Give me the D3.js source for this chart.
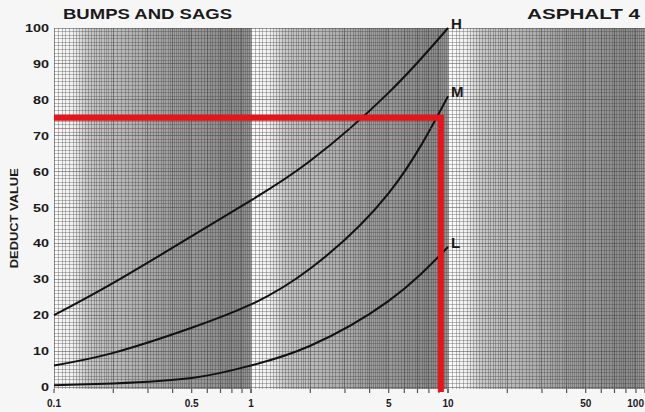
<!DOCTYPE html>
<html>
<head>
<meta charset="utf-8">
<script src="https://cdn.jsdelivr.net/npm/d3@7"></script>
<style>
  body { margin: 0; background: #f6f6f6; }
  svg { display: block; }
  .lbl { font-family: "Liberation Sans", Arial, sans-serif; font-weight: bold; fill: #1a1a1a; }
</style>
</head>
<body>
<svg width="645" height="412"></svg>
<script>
// ---- data ----
var xLevels = [0.1, 0.2, 0.5, 1, 2, 5, 10];          // density (%)
var highVals = [20, 29, 42, 52, 63, 82, 100];        // H curve
var medVals  = [6, 9.5, 16.5, 23, 33, 54, 81];       // M curve
var lowVals  = [0.5, 1, 2.5, 6, 11.5, 24, 39];       // L curve
var curveNames = ["H", "M", "L"];
var yTicks = [0, 10, 20, 30, 40, 50, 60, 70, 80, 90, 100];
var xTicks = [0.1, 0.5, 1, 5, 10, 50, 100];
var xTickLabels = ["0.1", "0.5", "1", "5", "10", "50", "100"];
var readDensity = 9.2, readDeduct = 75;             // red reading lines

var svg = d3.select("svg"),
    width = 645, height = 412;

var x = d3.scaleLog().domain([0.1, 100]).range([54, 645]);
var y = d3.scaleLinear().domain([0, 100]).range([387, 28]);

// ==================== background shading per decade ====================
var defs = svg.append("defs");
var grad = defs.append("linearGradient").attr("id", "decade");
[[0, "#fbfbfb"], [0.1, "#f0f0f0"], [0.17, "#c8c8c8"], [0.55, "#a4a4a4"], [0.9, "#8c8c8c"], [1, "#989898"]]
    .forEach(function(s) { grad.append("stop").attr("offset", s[0]).attr("stop-color", s[1]); });
defs.append("clipPath").attr("id", "plot").append("rect")
    .attr("x", x(0.1)).attr("y", y(100)).attr("width", x(100) - x(0.1)).attr("height", y(0) - y(100) + 2);

var decades = [0.1, 1, 10];
svg.append("g").selectAll("rect")
    .data(decades)
    .enter().append("rect")
    .attr("x", function(d) { return x(d); })
    .attr("y", y(100))
    .attr("width", function(d) { return x(d * 10) - x(d); })
    .attr("height", y(0) - y(100) + 2)
    .attr("fill", "url(#decade)");

// ==================== log paper grid ====================
var vLines = [];
decades.forEach(function(d) {
    // finer steps near the start of the decade like on real log paper
    var v;
    for (v = 1; v < 2 - 1e-9; v += 0.05) vLines.push({v: d * v, major: Math.abs(v - Math.round(v)) < 1e-6});
    for (v = 2; v < 5 - 1e-9; v += 0.1) vLines.push({v: d * v, major: Math.abs(v - Math.round(v)) < 1e-6});
    for (v = 5; v < 10 - 1e-9; v += 0.2) vLines.push({v: d * v, major: Math.abs(v - Math.round(v)) < 1e-6});
});
var grid = svg.append("g").attr("clip-path", "url(#plot)").attr("shape-rendering", "crispEdges");
grid.selectAll(".v")
    .data(vLines)
    .enter().append("line")
    .attr("class", "v")
    .attr("x1", function(d) { return x(d.v); }).attr("x2", function(d) { return x(d.v); })
    .attr("y1", y(100)).attr("y2", y(0) + 2)
    .attr("stroke", "#444")
    .attr("stroke-opacity", function(d) { return d.major ? 0.6 : 0.35; });
grid.selectAll(".h")
    .data(d3.range(0, 101))
    .enter().append("line")
    .attr("class", "h")
    .attr("x1", x(0.1)).attr("x2", x(100))
    .attr("y1", function(d) { return y(d); }).attr("y2", function(d) { return y(d); })
    .attr("stroke", "#444")
    .attr("stroke-opacity", function(d) { return d % 10 === 0 ? 0.5 : 0.35; });

// small tick marks under the grid
var minorTicks = [];
decades.forEach(function(d) { d3.range(1, 11).forEach(function(k) { minorTicks.push(d * k); }); });
svg.append("g").selectAll("line")
    .data(minorTicks)
    .enter().append("line")
    .attr("x1", function(d) { return x(d); }).attr("x2", function(d) { return x(d); })
    .attr("y1", y(0) + 2).attr("y2", y(0) + 6)
    .attr("stroke", "#555").attr("stroke-width", 1.2);

// ==================== curves ====================
var series = [highVals, medVals, lowVals];
var line = d3.line()
    .x(function(d) { return x(d[0]); })
    .y(function(d) { return y(d[1]); })
    .curve(d3.curveNatural);

svg.append("g").selectAll("path")
    .data(series)
    .enter().append("path")
    .attr("d", function(s) { return line(xLevels.map(function(v, i) { return [v, s[i]]; })); })
    .attr("fill", "none")
    .attr("stroke", "#111")
    .attr("stroke-width", 2);

svg.append("g").selectAll("text")
    .data(series)
    .enter().append("text")
    .attr("class", "lbl")
    .attr("x", x(10) + 3)
    .attr("y", function(s) { return y(s[s.length - 1]) + 1; })
    .attr("font-size", 15)
    .text(function(s, i) { return curveNames[i]; });

// ==================== red reading lines ====================
var red = svg.append("g").attr("stroke", "#e8141a").attr("stroke-width", 6).attr("fill", "none");
red.append("line")
    .attr("x1", x(0.1)).attr("x2", x(readDensity) + 3)
    .attr("y1", y(readDeduct)).attr("y2", y(readDeduct));
red.append("line")
    .attr("x1", x(readDensity)).attr("x2", x(readDensity))
    .attr("y1", y(readDeduct)).attr("y2", y(0) + 5);
// faint ghost line from the scan
svg.append("line")
    .attr("x1", x(0.1)).attr("x2", x(readDensity))
    .attr("y1", y(readDeduct - 3)).attr("y2", y(readDeduct - 3))
    .attr("stroke", "#c05060").attr("stroke-opacity", 0.35).attr("stroke-width", 1);

// ==================== axes text ====================
svg.append("g").selectAll("text")
    .data(yTicks)
    .enter().append("text")
    .attr("class", "lbl")
    .attr("x", 49)
    .attr("y", function(d) { return y(d) + 4; })
    .attr("text-anchor", "end")
    .attr("font-size", 10)
    .attr("fill", "#2a2a2a")
    .attr("textLength", function(d) { return String(d).length * 8; })
    .attr("lengthAdjust", "spacingAndGlyphs")
    .text(function(d) { return d; });

svg.append("g").selectAll("text")
    .data(xTicks)
    .enter().append("text")
    .attr("class", "lbl")
    .attr("x", function(d, i) { return i === xTicks.length - 1 ? width - 1 : x(d); })
    .attr("y", 407)
    .attr("text-anchor", function(d, i) { return i === xTicks.length - 1 ? "end" : "middle"; })
    .attr("font-size", 10)
    .attr("fill", "#2a2a2a")
    .text(function(d, i) { return xTickLabels[i]; });

svg.append("text")
    .attr("class", "lbl")
    .attr("transform", "translate(18," + y(47) + ") rotate(-90)")
    .attr("text-anchor", "middle")
    .attr("font-size", 11)
    .attr("fill", "#2a2a2a")
    .attr("textLength", 100)
    .attr("lengthAdjust", "spacingAndGlyphs")
    .text("DEDUCT VALUE");

// titles
svg.append("text")
    .attr("class", "lbl")
    .attr("x", 63).attr("y", 19)
    .attr("font-size", 14)
    .attr("textLength", 169)
    .attr("lengthAdjust", "spacingAndGlyphs")
    .text("BUMPS AND SAGS");
svg.append("text")
    .attr("class", "lbl")
    .attr("x", 527).attr("y", 19)
    .attr("font-size", 14)
    .attr("textLength", 113)
    .attr("lengthAdjust", "spacingAndGlyphs")
    .text("ASPHALT 4");
</script>
</body>
</html>
